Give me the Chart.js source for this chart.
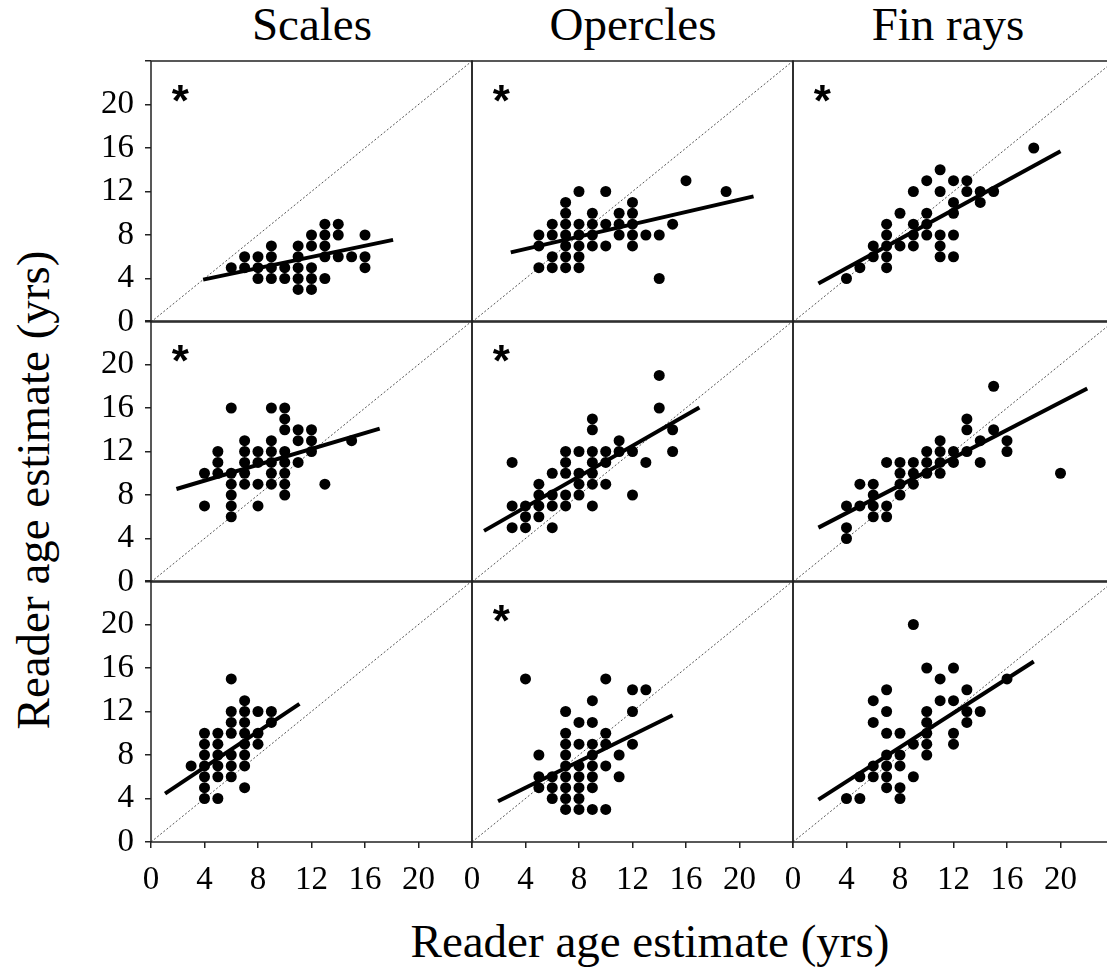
<!DOCTYPE html>
<html>
<head>
<meta charset="utf-8">
<script src="https://cdn.jsdelivr.net/npm/chart.js@4.4.0/dist/chart.umd.min.js"></script>
<style>
  body { margin: 0; background: #fff; width: 1107px; height: 974px; overflow: hidden; position: relative; font-family: "Liberation Serif", serif; }
  canvas { position: absolute; }
  .lbl { position: absolute; font-size: 47px; line-height: 47px; color: #000; white-space: nowrap; text-align: center; }
</style>
</head>
<body>
<div class="lbl" style="left:162px; top:1px; width:300px;">Scales</div>
<div class="lbl" style="left:483px; top:1px; width:300px;">Opercles</div>
<div class="lbl" style="left:798px; top:1px; width:300px;">Fin rays</div>
<div class="lbl" style="left:33px; top:490px; transform:translate(-50%,-50%) rotate(-90deg);">Reader age estimate (yrs)</div>
<div class="lbl" style="left:650px; top:941px; transform:translate(-50%,-50%);">Reader age estimate (yrs)</div>

<script>
// age pairs (row = reader comparison, column = structure)
const scales1X = [6,7,7,8,8,8,9,9,9,9,10,10,11,11,11,11,11,12,12,12,12,12,13,13,13,13,13,14,14,14,15,16,16,16];
const scales1Y = [5,6,5,6,5,4,7,6,5,4,5,4,7,6,5,4,3,8,7,5,4,3,9,8,7,6,4,9,8,6,6,8,6,5];
const opercles1X = [5,5,5,6,6,6,6,7,7,7,7,7,7,7,8,8,8,8,8,8,9,9,9,9,10,10,10,11,11,11,12,12,12,12,12,13,14,14,15,16,19];
const opercles1Y = [8,7,5,9,8,6,5,11,10,9,8,7,6,5,12,9,8,7,6,5,10,9,8,7,12,9,7,10,9,8,11,10,9,8,7,8,8,4,9,13,12];
const fin1X = [4,5,6,6,7,7,7,7,7,8,8,9,9,9,9,10,10,10,10,11,11,11,11,11,12,12,12,12,12,13,13,14,14,15,18];
const fin1Y = [4,5,7,6,9,8,7,6,5,10,7,12,9,8,7,13,10,9,8,14,12,8,7,6,13,11,10,8,6,13,12,12,11,12,16];

const scales2X = [4,4,5,5,5,6,6,6,6,6,6,7,7,7,7,7,8,8,8,8,9,9,9,9,9,9,10,10,10,10,10,10,10,10,11,11,11,12,12,12,13,15];
const scales2Y = [10,7,12,11,10,16,10,9,8,7,6,13,12,11,10,9,12,11,9,7,16,13,12,11,10,9,16,15,14,12,11,10,9,8,14,13,11,14,13,12,9,13];
const opercles2X = [3,3,3,4,4,4,5,5,5,5,6,6,6,6,7,7,7,7,7,8,8,8,8,9,9,9,9,9,9,9,10,10,10,11,11,12,12,13,14,14,15,15];
const opercles2Y = [11,7,5,7,6,5,9,8,7,6,10,8,7,5,12,11,10,8,7,12,10,9,8,15,14,12,11,10,9,7,12,11,9,13,12,12,8,11,19,16,14,12];
const fin2X = [4,4,4,5,5,6,6,6,6,7,7,7,8,8,8,8,9,9,9,10,10,10,11,11,11,11,12,12,13,13,13,14,14,15,15,16,16,20];
const fin2Y = [7,5,4,9,7,9,8,7,6,11,7,6,11,10,9,8,11,10,9,12,11,10,13,12,11,10,12,11,15,14,12,13,11,18,14,13,12,10];

const scales3X = [3,4,4,4,4,4,4,4,5,5,5,5,5,5,6,6,6,6,6,6,6,7,7,7,7,7,7,7,7,8,8,8,9,9];
const scales3Y = [7,10,9,8,7,6,5,4,10,9,8,7,6,4,15,12,11,10,8,7,6,13,12,11,10,9,8,7,5,12,10,9,12,11];
const opercles3X = [4,5,5,5,6,6,6,7,7,7,7,7,7,7,7,7,8,8,8,8,8,8,8,9,9,9,9,9,9,9,9,10,10,10,10,10,11,11,12,12,12,13];
const opercles3Y = [15,8,6,5,6,5,4,12,10,9,8,7,6,5,4,3,11,9,7,6,5,4,3,13,11,9,8,7,6,5,3,15,10,9,7,3,8,6,14,12,9,14];
const fin3X = [4,5,5,6,6,6,6,7,7,7,7,7,7,7,8,8,8,8,8,9,9,9,10,10,10,10,10,10,11,11,12,12,12,12,13,13,13,14,16];
const fin3Y = [4,6,4,13,11,7,6,14,12,10,8,7,6,5,10,8,7,5,4,20,9,6,16,12,11,10,9,8,15,13,16,13,10,9,14,12,11,12,15];

// fitted line end points [start, end]
const scales1LineX = [3.9, 18.1],   scales1LineY = [3.9, 7.55];
const opercles1LineX = [2.9, 21.05], opercles1LineY = [6.4, 11.55];
const fin1LineX = [1.9, 20.0],      fin1LineY = [3.55, 15.7];
const scales2LineX = [1.9, 17.1],   scales2LineY = [8.55, 14.1];
const opercles2LineX = [0.9, 17.0], opercles2LineY = [4.7, 16.05];
const fin2LineX = [1.9, 22.0],      fin2LineY = [5.0, 17.8];
const scales3LineX = [1.05, 11.1],  scales3LineY = [4.45, 12.7];
const opercles3LineX = [1.95, 15.0], opercles3LineY = [3.75, 11.65];
const fin3LineX = [1.9, 18.0],      fin3LineY = [3.9, 16.6];

const oneToOne = [0, 24];
const axisTicks = [0, 4, 8, 12, 16, 20, 24];
const starFlags = [true, true, true, true, true, false, false, true, false];

const panels = [
  [scales1X, scales1Y, scales1LineX, scales1LineY],
  [opercles1X, opercles1Y, opercles1LineX, opercles1LineY],
  [fin1X, fin1Y, fin1LineX, fin1LineY],
  [scales2X, scales2Y, scales2LineX, scales2LineY],
  [opercles2X, opercles2Y, opercles2LineX, opercles2LineY],
  [fin2X, fin2Y, fin2LineX, fin2LineY],
  [scales3X, scales3Y, scales3LineX, scales3LineY],
  [opercles3X, opercles3Y, opercles3LineX, opercles3LineY],
  [fin3X, fin3Y, fin3LineX, fin3LineY]
];

const colLeft = [151, 472, 793];
const rowTop = [61, 321, 581];
const plotW = 321, plotH = 261;
const padL = 90, padT = 40, padR = 40, padB = 70;

const pairs = (xs, ys) => xs.map((v, i) => ({x: v, y: ys[i]}));

Chart.defaults.font.family = "'Liberation Serif', 'Times New Roman', serif";

const framePlugin = {
  id: 'frame',
  afterDraw(chart) {
    const a = chart.chartArea;
    const ctx = chart.ctx;
    ctx.save();
    ctx.strokeStyle = '#222';
    ctx.lineWidth = 1.5;
    ctx.strokeRect(a.left, a.top, a.right - a.left, a.bottom - a.top);
    ctx.restore();
  }
};

const starPlugin = {
  id: 'star',
  afterDraw(chart, args, opts) {
    if (!opts.show) return;
    const ctx = chart.ctx;
    const px = chart.scales.x.getPixelForValue(2.2);
    const py = chart.scales.y.getPixelForValue(20.8);
    ctx.save();
    ctx.fillStyle = '#000';
    ctx.font = 'bold 44px Liberation Sans';
    ctx.textAlign = 'center';
    ctx.textBaseline = 'alphabetic';
    ctx.fillText('*', px, py + 20);
    ctx.restore();
  }
};

const tickFont = {size: 33};

panels.forEach((p, i) => {
  const row = Math.floor(i / 3), col = i % 3;
  const showY = col === 0, showX = row === 2;

  const canv = document.createElement('canvas');
  canv.width = plotW + padL + padR;
  canv.height = plotH + padT + padB;
  canv.style.left = (colLeft[col] - padL) + 'px';
  canv.style.top = (rowTop[row] - padT) + 'px';
  document.body.appendChild(canv);

  new Chart(canv.getContext('2d'), {
    type: 'scatter',
    data: {
      datasets: [
        {
          data: pairs(p[0], p[1]),
          backgroundColor: '#000',
          borderWidth: 0,
          pointRadius: 5.5
        },
        {
          data: pairs(p[2], p[3]),
          showLine: true,
          borderColor: '#000',
          borderWidth: 4,
          pointRadius: 0
        },
        {
          data: pairs(oneToOne, oneToOne),
          showLine: true,
          borderColor: '#555',
          borderWidth: 1,
          borderDash: [2, 2],
          pointRadius: 0
        }
      ]
    },
    options: {
      responsive: false,
      animation: false,
      events: [],
      layout: {padding: {top: padT, right: padR, left: 0, bottom: 0}},
      plugins: {
        legend: {display: false},
        tooltip: {enabled: false},
        star: {show: starFlags[i]}
      },
      scales: {
        x: {
          type: 'linear',
          min: 0,
          max: 24,
          afterFit: (s) => { s.height = padB; },
          afterBuildTicks: (s) => { s.ticks = axisTicks.map(v => ({value: v})); },
          ticks: {
            display: showX,
            color: '#000',
            font: tickFont,
            padding: 13,
            maxRotation: 0,
            autoSkip: false,
            callback: (v) => v === 24 ? '' : v
          },
          grid: {display: showX, drawOnChartArea: false, drawTicks: true, tickLength: 6, color: '#222', lineWidth: 1.5},
          border: {display: false}
        },
        y: {
          type: 'linear',
          min: 0,
          max: 24,
          afterFit: (s) => { s.width = padL; },
          afterBuildTicks: (s) => { s.ticks = axisTicks.map(v => ({value: v})); },
          ticks: {
            display: showY,
            color: '#000',
            font: tickFont,
            padding: 11,
            autoSkip: false,
            callback: (v) => v === 24 ? '' : v
          },
          grid: {display: showY, drawOnChartArea: false, drawTicks: true, tickLength: 6, color: '#222', lineWidth: 1.5},
          border: {display: false}
        }
      }
    },
    plugins: [framePlugin, starPlugin]
  });
});
</script>
</body>
</html>
